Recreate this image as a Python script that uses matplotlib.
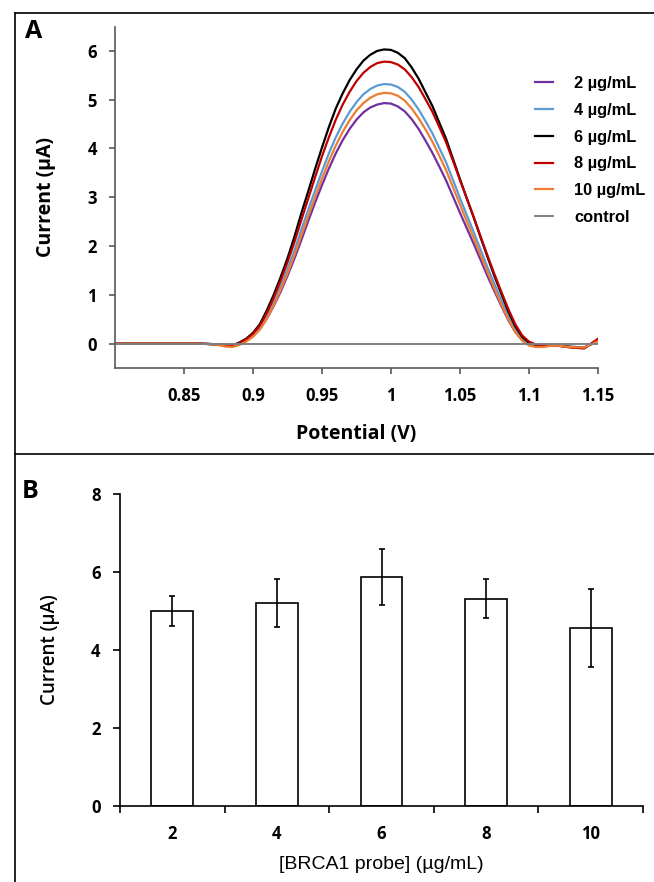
import numpy as np
import matplotlib
matplotlib.use('Agg')
import matplotlib.pyplot as plt
from matplotlib.lines import Line2D

# ---------------- data: panel A (DPV curves) ----------------
potential = [0.80, 0.82, 0.84, 0.86, 0.87,
             0.875, 0.880, 0.885, 0.890, 0.895, 0.900, 0.905, 0.910, 0.915, 0.920,
             0.925, 0.930, 0.935, 0.940, 0.945, 0.950, 0.955, 0.960, 0.965, 0.970,
             0.975, 0.980, 0.985, 0.990, 0.995, 1.000, 1.005, 1.010, 1.015, 1.020,
             1.025, 1.030, 1.035, 1.040, 1.045, 1.050, 1.055, 1.060, 1.065, 1.070,
             1.075, 1.080, 1.085, 1.090, 1.095, 1.100, 1.105, 1.110, 1.115, 1.120,
             1.13, 1.14, 1.15]

cur_2 = [0.00, 0.00, 0.00, 0.00, -0.01,
         -0.02, -0.04, -0.04, 0.00, 0.07, 0.16, 0.30, 0.51, 0.77, 1.06,
         1.39, 1.74, 2.12, 2.51, 2.89, 3.25, 3.59, 3.90, 4.17, 4.40,
         4.59, 4.74, 4.84, 4.90, 4.93, 4.92, 4.86, 4.76, 4.60, 4.40,
         4.16, 3.91, 3.63, 3.34, 3.01, 2.68, 2.36, 2.04, 1.71, 1.38,
         1.07, 0.77, 0.48, 0.24, 0.08, 0.00, -0.03, -0.04, -0.04, -0.04,
         -0.06, -0.08, 0.05]

cur_4 = [0.00, 0.00, 0.00, 0.00, -0.01,
         -0.02, -0.04, -0.04, 0.01, 0.08, 0.18, 0.33, 0.57, 0.86, 1.18,
         1.53, 1.91, 2.33, 2.74, 3.14, 3.53, 3.90, 4.23, 4.51, 4.75,
         4.95, 5.11, 5.22, 5.29, 5.32, 5.31, 5.26, 5.16, 5.00, 4.80,
         4.56, 4.31, 4.01, 3.71, 3.35, 2.98, 2.63, 2.28, 1.92, 1.56,
         1.22, 0.89, 0.57, 0.30, 0.11, 0.01, -0.04, -0.05, -0.04, -0.04,
         -0.07, -0.09, 0.06]

cur_6 = [0.00, 0.00, 0.00, 0.00, -0.01,
         -0.02, -0.04, -0.04, 0.02, 0.10, 0.22, 0.40, 0.68, 1.00, 1.36,
         1.75, 2.19, 2.67, 3.12, 3.58, 4.02, 4.44, 4.82, 5.13, 5.40,
         5.62, 5.80, 5.92, 6.00, 6.03, 6.02, 5.96, 5.85, 5.66, 5.43,
         5.15, 4.87, 4.53, 4.19, 3.78, 3.37, 2.97, 2.58, 2.17, 1.77,
         1.38, 1.02, 0.66, 0.36, 0.14, 0.02, -0.03, -0.04, -0.03, -0.03,
         -0.07, -0.09, 0.08]

cur_8 = [0.00, 0.00, 0.00, 0.00, -0.01,
         -0.02, -0.05, -0.04, 0.01, 0.09, 0.20, 0.37, 0.63, 0.94, 1.29,
         1.67, 2.08, 2.53, 2.97, 3.41, 3.84, 4.23, 4.59, 4.90, 5.16,
         5.38, 5.55, 5.67, 5.75, 5.78, 5.77, 5.72, 5.62, 5.46, 5.26,
         5.01, 4.75, 4.44, 4.12, 3.74, 3.35, 2.97, 2.59, 2.19, 1.80,
         1.42, 1.06, 0.71, 0.40, 0.17, 0.04, -0.02, -0.04, -0.04, -0.04,
         -0.08, -0.10, 0.10]

cur_10 = [0.00, 0.00, 0.00, 0.00, -0.01,
          -0.03, -0.06, -0.07, -0.03, 0.04, 0.14, 0.29, 0.51, 0.79, 1.10,
          1.44, 1.81, 2.21, 2.61, 3.00, 3.38, 3.74, 4.06, 4.34, 4.58,
          4.78, 4.93, 5.04, 5.11, 5.14, 5.13, 5.08, 4.98, 4.82, 4.62,
          4.39, 4.14, 3.85, 3.55, 3.20, 2.85, 2.50, 2.16, 1.81, 1.46,
          1.12, 0.80, 0.50, 0.24, 0.06, -0.04, -0.07, -0.07, -0.05, -0.04,
          -0.07, -0.08, 0.05]

control_x = [0.80, 1.15]
control_y = [0.0, 0.0]

series_labels = ['2 µg/mL', '4 µg/mL', '6 µg/mL', '8 µg/mL', '10 µg/mL']
series_colors = ['#7030A0', '#5B9BD5', '#000000', '#C00000', '#ED7D31']

# ---------------- data: panel B (bar chart) ----------------
probe_conc = ['2', '4', '6', '8', '10']
peak_current = [5.00, 5.21, 5.87, 5.32, 4.56]
peak_err = [0.38, 0.62, 0.72, 0.50, 1.00]

W, H = 654, 882
fig = plt.figure(figsize=(W / 100, H / 100), dpi=100)

def fbox(left, top, right, bottom):
    # pixel box -> figure fraction rect
    return [left / W, 1 - bottom / H, (right - left) / W, (bottom - top) / H]

calibri = ['Open Sans', 'DejaVu Sans']
arial = ['Liberation Sans', 'DejaVu Sans']
axcol = '#595959'

# ================= panel A =================
ax1 = fig.add_axes(fbox(115, 26.5, 598, 368))
for y, lab, col in zip([cur_2, cur_4, cur_6, cur_8, cur_10], series_labels, series_colors):
    ax1.plot(potential, y, color=col, lw=1.6, label=lab)
ax1.plot(control_x, control_y, color='#7F7F7F', lw=1.4, label='control')

ax1.set_xlim(0.80, 1.15)
ax1.set_ylim(-0.5, 6.5)
ax1.set_xticks([0.85, 0.9, 0.95, 1.0, 1.05, 1.1, 1.15])
ax1.set_xticklabels(['0.85', '0.9', '0.95', '1', '1.05', '1.1', '1.15'])
ax1.set_yticks(range(0, 7))
for s in ['top', 'right']:
    ax1.spines[s].set_visible(False)
for s in ['left', 'bottom']:
    ax1.spines[s].set_color(axcol)
    ax1.spines[s].set_linewidth(1.2)
ax1.tick_params(axis='x', direction='out', length=4, width=1.2, color=axcol, pad=10)
ax1.tick_params(axis='y', direction='out', length=4, width=1.2, color=axcol, pad=9)
for t in ax1.get_xticklabels() + ax1.get_yticklabels():
    t.set_fontfamily(calibri)
    t.set_fontweight('bold')
    t.set_fontsize(12)
ax1.set_xlabel('Potential (V)', family=calibri, weight='bold', fontsize=14, labelpad=13)
ax1.set_ylabel('Current (µA)', family=calibri, weight='bold', fontsize=14, labelpad=23)

leg = ax1.legend(loc='upper left', bbox_to_anchor=(535 / W, 1 - 76 / H),
                 bbox_transform=fig.transFigure, frameon=False, borderpad=0,
                 borderaxespad=0, handlelength=1.1, handletextpad=1.3,
                 labelspacing=0.72, prop={'family': arial, 'weight': 'bold', 'size': 11.8})

# ================= panel B =================
ax2 = fig.add_axes(fbox(120, 494, 643, 806))
pos = np.arange(len(probe_conc))
ax2.bar(pos, peak_current, width=0.4, color='white', edgecolor='black', linewidth=1.2,
        yerr=peak_err, error_kw=dict(ecolor='black', elinewidth=1.2, capsize=2, capthick=1.2))
ax2.set_xlim(-0.5, len(probe_conc) - 0.5)
ax2.set_ylim(0, 8)
ax2.set_yticks([0, 2, 4, 6, 8])
ax2.set_xticks(pos)
ax2.set_xticklabels(probe_conc)
ax2.set_xticks(np.arange(-0.5, len(probe_conc)), minor=True)
for s in ['top', 'right']:
    ax2.spines[s].set_visible(False)
for s in ['left', 'bottom']:
    ax2.spines[s].set_color('black')
    ax2.spines[s].set_linewidth(1.2)
ax2.tick_params(axis='x', which='major', length=0, pad=14)
ax2.tick_params(axis='x', which='minor', direction='out', length=5, width=1.2)
ax2.tick_params(axis='y', direction='out', length=5, width=1.2, pad=9)
for t in ax2.get_xticklabels() + ax2.get_yticklabels():
    t.set_fontfamily(calibri)
    t.set_fontweight('bold')
    t.set_fontsize(12)
ax2.set_xlabel('[BRCA1 probe] (µg/mL)', family=arial, fontsize=14, labelpad=9)
ax2.set_ylabel('Current (µA)', family=calibri, weight='semibold', fontsize=13.5, labelpad=22)

# ================= panel frames and letters =================
fig.add_artist(Line2D([15 / W, 1], [1 - 13 / H, 1 - 13 / H], transform=fig.transFigure, color='black', lw=1.2))
fig.add_artist(Line2D([15 / W, 15 / W], [1 - 13 / H, 0], transform=fig.transFigure, color='black', lw=1.2))
fig.add_artist(Line2D([15 / W, 1], [1 - 454 / H, 1 - 454 / H], transform=fig.transFigure, color='black', lw=1.2))
fig.text(25 / W, 1 - 31 / H, 'A', family=calibri, weight='bold', fontsize=18, va='center', ha='left')
fig.text(22 / W, 1 - 491 / H, 'B', family=calibri, weight='bold', fontsize=18, va='center', ha='left')

fig.savefig('out.png', dpi=100)
